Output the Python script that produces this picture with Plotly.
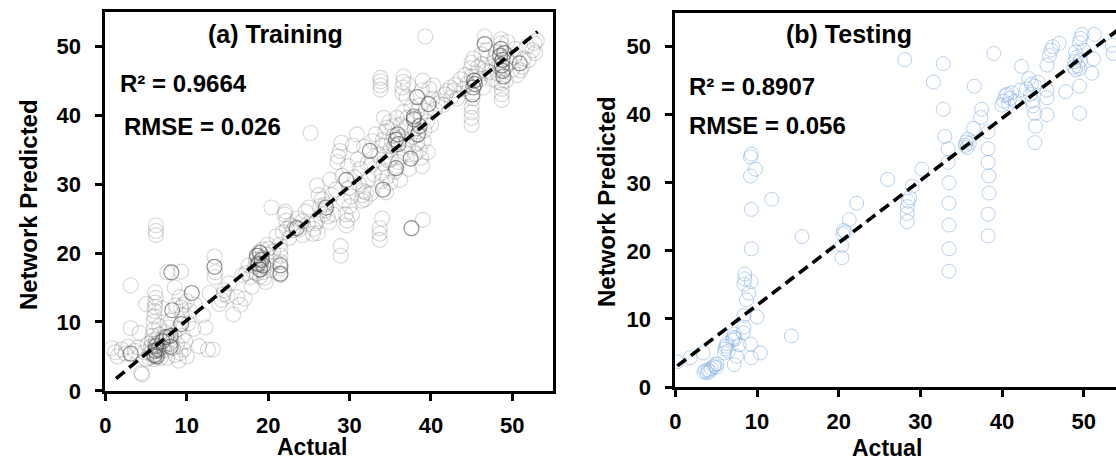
import plotly.graph_objects as go

# ---------------- Training set: (actual, predicted) ----------------
train_points = [
    (0.8, 6.2), (1.2, 5.6), (1.5, 5.0), (2.0, 6.0), (2.5, 5.4), (2.8, 6.4), (3.1, 9.1),
    (3.1, 15.3), (3.6, 5.8), (4.0, 6.3), (4.4, 2.6), (4.5, 2.4), (4.8, 5.6), (5.0, 4.6),
    (5.5, 5.5), (5.6, 6.4), (5.7, 7.2), (5.8, 8.0), (5.9, 8.9), (6.0, 5.0), (6.0, 4.6),
    (6.1, 6.0), (6.1, 6.8), (6.2, 7.5), (6.3, 5.3), (6.4, 6.2), (6.5, 7.0), (6.6, 8.2),
    (6.7, 5.8), (6.8, 4.8), (6.0, 11.6), (6.1, 12.2), (6.1, 12.8), (6.2, 13.5), (6.1, 14.3),
    (6.2, 22.6), (6.2, 23.2), (6.2, 24.0), (5.9, 10.0), (6.0, 10.8),
    (7.0, 6.3), (7.2, 7.8), (7.4, 8.5), (7.5, 5.8), (7.6, 17.2), (7.8, 9.2), (7.9, 6.8),
    (8.0, 7.5), (8.3, 6.2), (8.4, 8.0), (8.5, 15.0), (8.6, 12.4), (8.8, 6.8), (9.0, 9.0),
    (9.0, 4.4), (9.2, 5.5), (9.3, 12.1), (9.3, 17.3), (9.4, 11.0), (9.5, 8.0), (9.6, 12.5),
    (9.6, 6.0), (10.0, 5.0), (10.2, 9.8), (10.8, 9.0), (11.0, 12.5),
    (5.2, 6.8), (5.4, 4.8), (6.6, 9.4), (7.2, 6.0), (7.6, 4.8), (8.0, 10.2), (8.6, 5.2),
    (9.8, 7.2), (10.4, 11.6), (10.0, 13.0), (9.1, 13.6), (7.0, 12.0), (5.0, 12.6), (4.2, 8.4),
    (11.5, 6.5), (12.3, 9.2), (12.6, 6.0), (13.2, 6.0), (13.4, 16.5), (13.4, 19.5),
    (13.5, 17.2), (14.3, 13.2), (14.5, 14.0), (14.6, 14.6), (15.0, 13.8), (15.7, 11.1),
    (16.6, 12.5), (17.1, 13.4), (16.8, 16.8), (17.3, 17.1), (18.0, 15.1), (17.8, 16.5),
    (12.0, 11.0), (14.0, 12.6), (15.2, 15.6), (16.2, 13.6), (17.6, 18.2), (12.8, 14.2),
    (18.2, 17.3), (18.4, 18.1), (18.5, 19.0), (18.6, 17.0), (18.7, 18.6), (18.8, 19.6),
    (18.9, 20.2), (19.0, 17.6), (19.1, 18.4), (19.2, 19.3), (19.3, 20.5), (19.4, 17.2),
    (19.5, 16.4), (19.6, 18.0), (19.8, 19.8), (20.0, 20.6), (20.2, 17.5), (19.7, 15.8),
    (19.0, 16.6), (21.5, 16.8), (21.5, 17.8), (21.5, 18.7), (21.5, 19.6), (21.5, 20.5),
    (21.4, 21.2), (20.4, 26.6), (22.0, 25.6), (22.1, 26.0), (22.2, 24.7), (22.3, 23.5),
    (21.8, 23.0), (20.6, 20.2), (20.8, 18.8), (19.9, 21.2), (22.6, 22.2), (22.8, 24.0),
    (21.0, 22.4), (23.6, 25.0),
    (23.0, 23.3), (23.3, 23.8), (23.8, 23.4), (24.2, 24.6), (24.6, 26.0), (25.0, 26.6),
    (25.2, 37.4), (25.5, 22.8), (25.6, 23.5), (25.8, 24.3), (26.0, 24.6), (26.1, 22.9),
    (26.2, 28.4), (26.6, 27.8), (27.0, 26.2), (27.0, 27.0), (27.3, 25.3), (27.5, 24.5),
    (26.8, 25.6), (24.2, 22.6), (24.9, 24.2), (26.4, 26.8), (27.8, 28.4), (28.0, 25.6),
    (26.0, 29.8), (27.6, 30.6),
    (28.3, 29.2), (28.5, 33.2), (28.6, 34.0), (28.8, 34.8), (28.9, 19.6), (28.9, 21.0),
    (29.1, 31.2), (29.3, 27.6), (29.6, 24.0), (29.7, 24.7), (29.8, 32.6), (30.0, 26.8),
    (30.2, 28.2), (30.4, 35.6), (30.9, 37.2), (31.2, 30.0), (31.5, 27.6), (31.6, 28.4),
    (31.7, 29.0), (31.9, 27.8), (32.0, 28.8), (32.3, 30.6), (32.7, 32.8), (33.0, 31.4),
    (33.2, 37.2), (29.0, 36.0), (29.9, 29.4), (30.6, 31.0), (31.0, 33.6), (31.8, 35.4),
    (32.2, 33.0), (32.8, 36.2), (30.3, 25.6), (31.3, 32.2), (29.5, 25.6), (32.6, 28.6),
    (33.8, 43.7), (33.8, 44.3), (33.8, 44.9), (33.8, 45.4), (33.7, 21.9), (33.7, 22.8),
    (33.7, 23.6), (34.0, 25.0), (33.9, 30.4), (34.0, 31.6), (34.2, 33.0), (34.3, 34.0),
    (34.0, 35.6), (34.1, 36.4), (34.4, 37.6), (34.6, 38.2), (34.8, 33.4), (35.0, 35.0),
    (35.2, 36.2), (35.4, 37.0), (35.5, 35.6), (35.6, 31.8), (36.2, 34.0), (36.3, 38.6),
    (36.5, 43.2), (36.5, 44.0), (36.6, 44.8), (36.6, 45.6), (36.6, 40.4), (36.8, 34.5),
    (37.0, 36.4), (37.2, 35.4), (34.6, 31.0), (34.9, 39.0), (35.1, 33.6), (35.3, 38.4),
    (35.8, 39.6), (36.0, 33.2), (36.4, 36.8), (36.9, 38.2), (37.1, 39.6), (37.3, 32.2),
    (34.5, 28.8), (35.0, 30.2), (36.2, 30.6), (33.6, 34.2), (34.2, 39.6),
    (39.0, 24.8), (38.0, 38.0), (38.3, 36.0), (38.5, 37.6), (38.6, 35.0), (38.8, 33.8),
    (38.9, 32.6), (38.3, 40.6), (38.6, 41.4), (39.0, 45.0), (39.3, 51.4), (39.5, 39.0),
    (39.2, 37.8), (39.8, 43.8), (40.3, 44.3), (40.5, 40.8), (37.6, 41.2), (37.8, 36.8),
    (38.1, 34.4), (38.7, 39.8), (39.1, 36.2), (39.4, 40.6), (39.6, 34.6), (40.0, 38.6),
    (40.2, 42.4), (40.8, 41.6), (38.9, 43.6), (37.2, 44.4), (37.0, 42.6),
    (41.2, 42.0), (41.5, 41.5), (41.8, 43.0), (42.0, 43.5), (42.4, 44.0), (42.8, 43.6),
    (43.0, 44.4), (43.6, 45.2), (44.2, 45.8), (42.5, 42.6), (43.2, 42.4), (44.0, 43.8),
    (44.5, 44.6),
    (45.0, 38.6), (45.0, 39.6), (45.0, 40.4), (45.0, 41.2), (45.1, 42.4), (45.0, 45.6),
    (44.9, 46.8), (45.0, 47.6), (45.2, 48.2), (45.6, 46.0), (46.0, 45.2), (46.3, 47.4),
    (46.4, 44.0), (46.8, 46.4), (47.0, 48.4), (45.8, 47.0), (46.2, 48.8),
    (46.6, 51.4), (46.8, 49.4), (47.2, 46.2), (47.5, 47.0), (47.8, 48.2), (48.2, 46.0),
    (48.4, 47.4), (48.6, 50.4), (48.6, 51.0), (48.7, 44.6), (48.7, 43.8), (48.7, 43.0),
    (48.7, 42.2), (49.2, 45.0), (49.4, 50.6), (50.2, 48.4), (47.6, 45.2), (48.0, 49.2),
    (48.3, 44.8), (49.1, 46.8), (49.3, 48.2), (49.6, 47.6), (50.0, 46.6), (50.4, 49.6),
    (50.6, 45.8), (51.4, 48.2), (52.0, 48.0), (53.0, 50.8),
    (51.0, 46.5), (51.2, 47.0), (52.5, 49.4), (52.7, 50.4), (52.8, 49.0), (51.8, 50.0),
]

# Training points that sit on top of one another (they read darker)
train_stacked_points = [
    (3.1, 5.4), (6.0, 5.2), (6.1, 5.8), (6.2, 6.5), (6.3, 5.0), (6.5, 6.0), (7.0, 7.2),
    (7.5, 7.8), (8.0, 8.0), (8.0, 6.4), (8.1, 17.2), (8.2, 11.7), (9.3, 9.7), (10.6, 14.2),
    (13.4, 18.0), (18.6, 19.6), (18.8, 18.4), (19.0, 17.6), (19.2, 19.0), (19.4, 18.2),
    (19.0, 20.0), (21.5, 17.0), (21.5, 18.2), (23.5, 23.6), (27.1, 26.6), (29.6, 30.6),
    (32.5, 34.8), (34.1, 29.2), (35.7, 36.4), (35.9, 37.2), (36.0, 35.8), (35.7, 32.3),
    (37.6, 23.6), (37.5, 33.7), (37.9, 39.4), (37.9, 39.8), (38.4, 37.2), (38.6, 38.4),
    (38.3, 42.6), (39.7, 41.6), (45.1, 43.0), (45.2, 44.0), (45.3, 45.0), (45.4, 44.5),
    (46.6, 50.3), (48.5, 48.6), (48.6, 49.6), (48.7, 47.2), (48.8, 46.4), (48.9, 45.6),
    (48.8, 48.0), (49.0, 49.0), (50.9, 47.5),
]

# ---------------- Testing set: (actual, predicted) ----------------
test_points = [
    (0.2, 3.7), (1.8, 4.3), (3.4, 5.0), (3.5, 2.2), (3.7, 2.4), (3.9, 2.1), (4.0, 2.5),
    (4.2, 2.3), (4.4, 2.7), (4.7, 3.0), (4.8, 3.3), (5.0, 2.9), (5.1, 3.4), (6.0, 5.0),
    (6.1, 5.6), (6.2, 6.0), (6.3, 6.4), (6.5, 5.3), (7.0, 6.9), (7.1, 7.3), (7.2, 7.8),
    (7.3, 7.1), (7.2, 3.3), (7.5, 4.5), (7.8, 6.2), (8.3, 8.0), (8.4, 8.8), (8.4, 10.5),
    (8.4, 15.1), (8.5, 15.9), (8.5, 16.6), (8.7, 12.8), (9.0, 13.8), (9.3, 15.5),
    (9.2, 6.3), (9.3, 4.3), (10.0, 10.3), (10.4, 5.0), (9.3, 20.3), (9.3, 26.1),
    (9.2, 31.0), (9.8, 32.0), (9.2, 33.8), (9.3, 34.2), (11.8, 27.6), (14.2, 7.5),
    (15.5, 22.1), (20.4, 19.0), (20.4, 20.8), (20.5, 22.5), (20.6, 23.0), (20.8, 22.8),
    (21.3, 24.6), (22.2, 27.0), (26.0, 30.5), (28.1, 48.1), (28.4, 24.3), (28.4, 25.5),
    (28.4, 26.5), (28.5, 27.3), (28.7, 27.8), (29.0, 29.5), (30.2, 32.0), (31.6, 44.8),
    (32.8, 47.5), (32.8, 40.8), (33.0, 36.8), (33.4, 35.0), (33.4, 33.0), (33.5, 30.0),
    (33.5, 27.0), (33.5, 23.8), (33.5, 20.3), (33.5, 17.0), (35.5, 35.5), (35.6, 36.0),
    (35.8, 36.4), (36.0, 35.8), (35.7, 35.2), (36.5, 38.0), (36.6, 44.2), (37.5, 40.8),
    (37.4, 39.6), (38.3, 37.5), (38.3, 35.0), (38.3, 33.0), (38.4, 31.0), (38.4, 28.5),
    (38.3, 25.4), (38.3, 22.2), (39.0, 49.0), (40.0, 41.4), (40.2, 42.0), (40.4, 42.8),
    (40.6, 43.0), (40.8, 41.6), (41.0, 42.4), (41.2, 43.2), (41.6, 42.0), (42.4, 47.1),
    (42.2, 43.6), (43.0, 43.8), (43.3, 45.3), (43.6, 44.5), (44.0, 44.2), (43.5, 43.0),
    (43.7, 42.0), (43.8, 41.3), (44.0, 40.2), (44.1, 38.3), (44.0, 35.9), (44.4, 44.8),
    (45.5, 40.0), (45.5, 42.5), (45.5, 43.6), (45.5, 47.3), (45.8, 48.7), (46.0, 49.5),
    (46.2, 50.0), (47.0, 50.5), (47.8, 43.4), (48.8, 47.0), (48.9, 47.8), (49.0, 46.6),
    (49.1, 48.4), (49.3, 47.2), (49.5, 46.8), (49.6, 48.0), (49.0, 49.2), (49.5, 50.6),
    (49.6, 51.2), (49.8, 51.8), (49.5, 44.2), (49.5, 40.2), (50.0, 49.5), (51.0, 46.1),
    (51.2, 48.2), (51.3, 51.8), (53.5, 50.2), (53.6, 49.0),
]

# Trend lines drawn on each panel (end points)
train_fit_x = [1.3, 53.1]
train_fit_y = [1.8, 52.1]
test_fit_x = [0.24, 55.0]
test_fit_y = [3.1, 53.2]

axis_ticks = [0, 10, 20, 30, 40, 50]

FONT = "Arial, Liberation Sans, sans-serif"
W, H = 1116, 472


def px_x(p):
    return p / W


def px_y(p):
    return 1 - p / H


def unzip(points):
    return [p[0] for p in points], [p[1] for p in points]


fig = go.Figure()

tx, ty = unzip(train_points)
fig.add_trace(go.Scatter(
    x=tx, y=ty, mode="markers",
    marker=dict(symbol="circle-open", size=15, color="rgba(110,110,110,0.28)",
                line=dict(width=1.1)),
    xaxis="x", yaxis="y", showlegend=False,
))
sx, sy = unzip(train_stacked_points)
fig.add_trace(go.Scatter(
    x=sx, y=sy, mode="markers",
    marker=dict(symbol="circle-open", size=15, color="rgba(80,80,80,0.62)",
                line=dict(width=1.2)),
    xaxis="x", yaxis="y", showlegend=False,
))
fig.add_trace(go.Scatter(
    x=train_fit_x, y=train_fit_y, mode="lines",
    line=dict(color="black", width=3.6, dash="11px,6px"),
    xaxis="x", yaxis="y", showlegend=False,
))

vx, vy = unzip(test_points)
fig.add_trace(go.Scatter(
    x=vx, y=vy, mode="markers",
    marker=dict(symbol="circle-open", size=14, color="rgba(125,172,222,0.55)",
                line=dict(width=1)),
    xaxis="x2", yaxis="y2", showlegend=False,
))
fig.add_trace(go.Scatter(
    x=test_fit_x, y=test_fit_y, mode="lines",
    line=dict(color="black", width=3.6, dash="11px,6px"),
    xaxis="x2", yaxis="y2", showlegend=False,
))

axis_common = dict(
    showgrid=False, zeroline=False, showline=True, linecolor="black", linewidth=3,
    ticks="outside", ticklen=7, tickwidth=2.5, tickcolor="black",
    tickvals=axis_ticks,
    tickfont=dict(family=FONT, size=22, color="black", weight="bold"),
    fixedrange=True,
)

fig.update_layout(
    width=W, height=H,
    margin=dict(l=0, r=0, t=0, b=0),
    paper_bgcolor="white", plot_bgcolor="white",
    xaxis=dict(axis_common, domain=[px_x(100), px_x(550)], range=[0, 55],
               anchor="y", mirror=True, ticklabelstandoff=6),
    yaxis=dict(axis_common, domain=[px_y(402), px_y(12)], range=[0, 55],
               anchor="x", mirror=True, ticklabelstandoff=10),
    xaxis2=dict(axis_common, domain=[px_x(673), 1.0], range=[0, (W - 673) / 8.21],
                anchor="y2", mirror=True, ticklabelstandoff=6),
    yaxis2=dict(axis_common, domain=[px_y(398), px_y(13)], range=[0, 55],
                anchor="x2", mirror=False, ticklabelstandoff=10),
)


def label(text, x, y, size, xanchor="center", angle=0):
    fig.add_annotation(
        text=text, x=px_x(x), y=px_y(y), xref="paper", yref="paper",
        xanchor=xanchor, yanchor="middle", showarrow=False, textangle=angle,
        font=dict(family=FONT, size=size, color="black", weight="bold"),
    )


# Panel titles and fit statistics
label("(a) Training", 271, 35, 25)
label("R² = 0.9664", 113, 86, 24, xanchor="left")
label("RMSE = 0.026", 117, 130, 24, xanchor="left")
label("(b) Testing", 848, 35, 25)
label("R² = 0.8907", 685, 89, 24, xanchor="left")
label("RMSE = 0.056", 685, 129, 24, xanchor="left")

# Axis titles
label("Actual", 308, 460, 23)
label("Actual", 886, 461, 23)
label("Network Predicted", 22, 210, 24, angle=-90)
label("Network Predicted", 604, 207, 24, angle=-90)

fig.write_html("out.html")
